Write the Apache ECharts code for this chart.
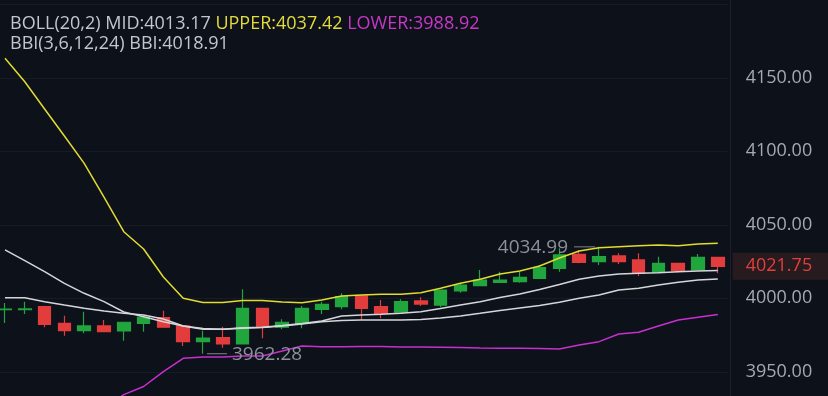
<!DOCTYPE html>
<html><head><meta charset="utf-8">
<script src="https://cdn.jsdelivr.net/npm/echarts@6/dist/echarts.min.js"></script>
<style>html,body{margin:0;padding:0;background:#0d111a;}#c{width:828px;height:396px;}</style>
</head><body><div id="c"></div>
<script>
const categories = ['1','2','3','4','5','6','7','8','9','10','11','12','13','14','15','16','17','18','19','20','21','22','23','24','25','26','27','28','29','30','31','32','33','34','35','36','37'];
// [open, close, low, high]
const candles = [
  [3992.3,3992.6,3983.2,3996.8],[3992.3,3992.8,3989.3,3997.7],[3994.3,3982.3,3980.3,3995.0],[3983.0,3978.0,3974.6,3988.2],
  [3978.0,3981.2,3976.2,3990.9],[3981.2,3977.3,3977.3,3985.2],[3977.8,3983.7,3971.2,3983.9],[3983.0,3987.1,3977.3,3988.3],
  [3986.8,3980.3,3980.0,3991.6],[3981.2,3970.5,3967.6,3981.4],[3970.5,3973.0,3962.28,3978.0],[3973.2,3968.9,3966.4,3980.7],
  [3968.9,3993.2,3968.6,4006.1],[3993.2,3980.3,3972.8,3993.4],[3980.3,3983.7,3978.9,3985.7],[3983.0,3993.2,3979.6,3994.8],
  [3992.5,3995.9,3989.3,3997.7],[3994.3,4001.1,3992.5,4003.4],[4001.6,3993.2,3985.2,4001.8],[3994.3,3989.8,3986.4,3998.8],
  [3990.5,3997.7,3990.0,3999.3],[3998.2,3996.1,3994.8,4000.7],[3995.4,4005.6,3993.9,4006.0],[4005.0,4009.0,4003.8,4010.2],
  [4008.6,4012.4,4008.4,4019.3],[4010.9,4012.4,4010.5,4018.1],[4011.3,4014.3,4010.6,4018.1],[4013.6,4020.8,4013.3,4022.7],
  [4020.4,4029.5,4018.1,4034.0],[4029.9,4024.5,4023.8,4032.9],[4024.9,4028.3,4022.7,4034.99],[4028.8,4024.9,4023.3,4030.6],
  [4026.1,4017.0,4015.2,4030.6],[4017.7,4023.8,4017.5,4028.3],[4023.8,4018.8,4017.7,4024.0],[4019.3,4027.9,4019.0,4030.1],
  [4027.9,4021.75,4017.0,4028.0]
];
const upper = [4163.3,4147.3,4128.8,4110.4,4091.8,4068.9,4045.3,4033.5,4014.5,4000.0,3997.1,3997.1,3998.5,3998.5,3997.5,3997.0,3998.8,4001.6,4002.2,4002.7,4002.7,4003.8,4006.8,4010.2,4012.9,4016.5,4018.6,4022.0,4027.4,4032.2,4034.4,4035.1,4035.8,4036.3,4035.8,4036.9,4037.42];
const mid = [4032.9,4025.6,4018.1,4010.2,4003.4,3997.7,3990.7,3987.5,3984.1,3981.2,3979.5,3978.9,3979.6,3980.1,3981.2,3982.5,3984.1,3984.9,3985.2,3985.2,3985.2,3985.6,3986.6,3988.0,3989.8,3991.7,3993.4,3995.1,3997.3,4000.0,4002.2,4005.6,4006.8,4009.0,4010.9,4012.4,4013.17];
const lower = [3902.5,3903.9,3907.4,3910.0,3915.0,3925.0,3934.5,3940.0,3950.1,3959.2,3960.1,3960.1,3960.7,3960.7,3964.1,3967.6,3967.1,3967.1,3967.2,3967.2,3966.9,3966.9,3966.7,3966.5,3966.2,3966.0,3966.0,3965.9,3965.5,3968.2,3970.5,3975.7,3976.9,3981.2,3985.2,3987.1,3988.92];
const bbi = [4000.4,4000.4,3997.7,3995.4,3993.2,3991.4,3989.8,3988.6,3985.9,3981.2,3978.9,3978.9,3980.0,3980.3,3981.5,3982.9,3984.6,3988.0,3988.6,3989.1,3989.8,3990.9,3993.1,3995.4,3997.7,4000.5,4002.9,4006.0,4009.4,4012.9,4015.2,4016.5,4017.0,4017.4,4018.1,4018.6,4018.91];
const yTicks = [3950, 4000, 4050, 4100, 4150];

const FONT = '"Open Sans"';
const last = candles.length - 1;
let lowIdx = 0, highIdx = 0;
candles.forEach((c, i) => { if (c[2] < candles[lowIdx][2]) lowIdx = i; if (c[3] > candles[highIdx][3]) highIdx = i; });
const markers = [[lowIdx, candles[lowIdx][2], 0], [highIdx, candles[highIdx][3], 1], [last, candles[last][1], 2]];

const chart = echarts.init(document.getElementById('c'), null, {renderer: 'canvas'});
chart.setOption({
  backgroundColor: '#0d111a',
  animation: false,
  title: {
    left: 5, top: 9,
    text: '{a|BOLL(20,2) MID:' + mid[last].toFixed(2) + '} {b|UPPER:' + upper[last].toFixed(2) + '} {c|LOWER:' + lower[last].toFixed(2) + '}\n{a|BBI(3,6,12,24) BBI:' + bbi[last].toFixed(2) + '}',
    textStyle: {
      fontFamily: FONT, fontSize: 18, fontWeight: 'normal', lineHeight: 20,
      rich: {
        a: {color: '#c3c6cc', fontFamily: FONT, fontSize: 18, lineHeight: 20},
        b: {color: '#e3dc3c', fontFamily: FONT, fontSize: 18, lineHeight: 20},
        c: {color: '#c837c8', fontFamily: FONT, fontSize: 18, lineHeight: 20}
      }
    }
  },
  grid: {left: -4.9, top: -69.2, width: 732.6, height: 514.5, outerBoundsMode: 'none', containLabel: false},
  xAxis: {type: 'category', data: categories, show: false, boundaryGap: true},
  yAxis: {
    type: 'value', position: 'right', min: 3900, max: 4250, interval: 50, offset: 3,
    axisLine: {show: true, onZero: false, lineStyle: {color: '#1b202a', width: 1}},
    axisTick: {show: false},
    axisLabel: {margin: 15, color: '#a5a9b1', fontFamily: FONT, fontSize: 18,
      formatter: v => yTicks.includes(v) ? v.toFixed(2) : ''},
    splitLine: {show: true, lineStyle: {color: '#161b25', width: 1}}
  },
  series: [
    {type: 'candlestick', data: candles, barWidth: 13, z: 1,
      itemStyle: {color: '#21a63d', color0: '#e23c3c', borderColor: '#21a63d', borderColor0: '#e23c3c', borderWidth: 1.2}},
    {type: 'line', data: upper, symbol: 'none', z: 3, lineStyle: {color: '#e2dc2e', width: 1.5}},
    {type: 'line', data: mid, symbol: 'none', z: 3, lineStyle: {color: '#d5d6da', width: 1.5}},
    {type: 'line', data: lower, symbol: 'none', z: 3, lineStyle: {color: '#c92fd0', width: 1.5}},
    {type: 'line', data: bbi, symbol: 'none', z: 3, lineStyle: {color: '#d5d6da', width: 1.5}},
    {type: 'custom', data: markers, clip: false, z: 5, encode: {x: 0, y: 1},
      renderItem: function (params, api) {
        const idx = api.value(0), val = api.value(1), kind = api.value(2);
        const p = api.coord([idx, val]);
        const cs = params.coordSys;
        if (kind === 0) {
          return {type: 'group', children: [
            {type: 'line', shape: {x1: p[0] + 4, y1: p[1], x2: p[0] + 24, y2: p[1]}, style: {stroke: '#7d828b', lineWidth: 1}},
            {type: 'text', x: p[0] + 29, y: p[1] + 1, style: {text: val.toFixed(2), fill: '#8c919a', fontFamily: FONT, fontSize: 19, align: 'left', verticalAlign: 'middle'}}
          ]};
        } else if (kind === 1) {
          return {type: 'group', children: [
            {type: 'line', shape: {x1: p[0] - 4, y1: p[1], x2: p[0] - 25, y2: p[1]}, style: {stroke: '#7d828b', lineWidth: 1}},
            {type: 'text', x: p[0] - 31, y: p[1] + 1, style: {text: val.toFixed(2), fill: '#8c919a', fontFamily: FONT, fontSize: 19, align: 'right', verticalAlign: 'middle'}}
          ]};
        } else {
          const x0 = cs.x + cs.width + 5;
          return {type: 'group', children: [
            {type: 'rect', shape: {x: x0, y: p[1] - 13.5, width: api.getWidth() - x0, height: 27}, style: {fill: '#271b1f'}},
            {type: 'text', x: cs.x + cs.width + 18, y: p[1], style: {text: val.toFixed(2), fill: '#e0403d', fontFamily: FONT, fontSize: 18, align: 'left', verticalAlign: 'middle'}}
          ]};
        }
      }
    }
  ]
});
</script></body></html>
